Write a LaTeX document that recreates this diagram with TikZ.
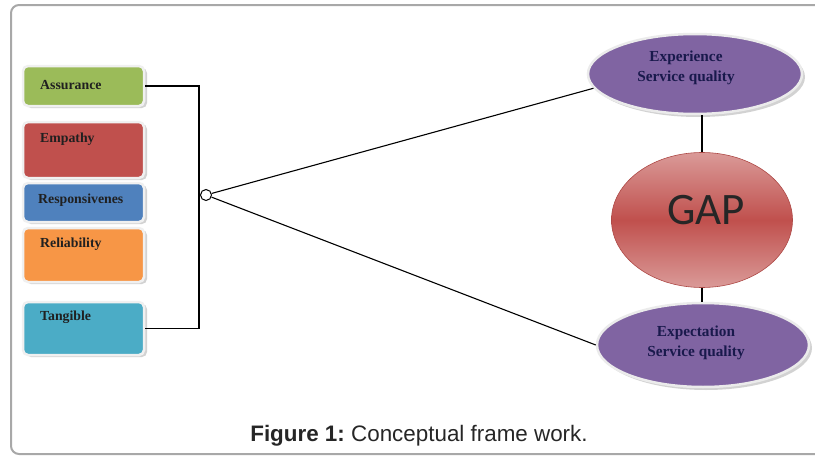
\documentclass[tikz,border=0pt]{standalone}
\usepackage{fontspec}
\setmainfont{Liberation Serif}
\newfontfamily\capfont{Liberation Sans}
\newfontfamily\gapfont{Carlito}
\usetikzlibrary{shapes.geometric,shadows}
\definecolor{cgreen}{HTML}{9BBB59}
\definecolor{cred}{HTML}{C0504D}
\definecolor{cblue}{HTML}{4F81BD}
\definecolor{corange}{HTML}{F79646}
\definecolor{cteal}{HTML}{4BACC6}
\definecolor{cpurple}{HTML}{8064A2}
\definecolor{clight}{HTML}{DA9A98}
\definecolor{ctext}{HTML}{202020}
\definecolor{cframe}{HTML}{A8A8A8}
\tikzset{
  fbox/.style={draw=white!94!black, line width=2.5pt, rounded corners=5pt, minimum width=121pt, inner sep=0pt,
    drop shadow={shadow xshift=3pt, shadow yshift=-2pt, fill=black!35, opacity=.5}},
  blabel/.style={anchor=west, font=\bfseries\fontsize{13.8}{16}\selectfont, text=ctext, inner sep=0pt},
  pell/.style={ellipse, draw=white!92!black, line width=2.5pt, fill=cpurple, inner sep=0pt,
    drop shadow={shadow xshift=3pt, shadow yshift=-3pt, fill=black!35, opacity=.5}},
  elabel/.style={align=center, font=\bfseries\fontsize{15.3}{20}\selectfont, text=ctext!80!blue, inner sep=0pt},
  conn/.style={draw=black, line width=1.1pt}
}
\begin{document}
\begin{tikzpicture}[x=1pt,y=-1pt]
\useasboundingbox (0,0) rectangle (815,458);
\begin{scope}
\clip (0,0) rectangle (815,458);
\draw[cframe, line width=2pt, rounded corners=8pt] (11,5) rectangle (840,454);
\end{scope}
% boxes
\node[fbox, fill=cgreen, minimum height=40pt] (assur) at (83.5,86) {};
\node[fbox, fill=cred, minimum height=56pt] (empat) at (83.5,150) {};
\node[fbox, fill=cblue, minimum height=39pt] (respo) at (83.5,202.5) {};
\node[fbox, fill=corange, minimum height=54pt] (relia) at (83.5,255) {};
\node[fbox, fill=cteal, minimum height=53pt] (tangi) at (83.5,328.5) {};
\node[blabel] (lassur) at (40,85) {Assurance};
\node[blabel] (lempat) at (40,139) {Empathy};
\node[blabel] (lrespo) at (38,200) {Responsivenes};
\node[blabel] (lrelia) at (40,244) {Reliability};
\node[blabel] (ltangi) at (40,317) {Tangible};
% connectors from boxes
\coordinate (bartop) at (199,86);
\draw[conn] (assur.east) -- (bartop) |- (tangi.east);
\node[circle, draw=black, line width=1pt, fill=white, minimum size=11pt, inner sep=0pt] (jn) at (206,195) {};
% ellipses
\node[pell, minimum width=214pt, minimum height=80pt] (exper) at (695,74) {};
\node[pell, minimum width=212pt, minimum height=84pt] (expec) at (703,345) {};
\node[ellipse, draw=cred!90!black, line width=0.6pt, top color=clight, bottom color=clight, middle color=cred,
  minimum width=181pt, minimum height=135pt, inner sep=0pt] (gap) at (702,220) {};
\node[font=\gapfont\fontsize{45}{45}\selectfont, text=black!85, inner sep=0pt] (lgap) at (706,210) {GAP};
\node[elabel] (lexper) at (686,68) {Experience\\Service quality};
\node[elabel] (lexpec) at (696,343) {Expectation\\Service quality};
\draw[conn] (jn) -- (exper.188);
\draw[conn] (jn) -- (expec.180);
\draw[conn] (exper.south -| gap.north) -- (gap.north);
\draw[conn] (gap.south) -- (expec.north -| gap.south);
% caption
\node[font=\capfont\fontsize{22.4}{25}\selectfont, text=black!85, inner sep=0pt] (cap) at (419,436) {\textbf{Figure 1:}~Conceptual frame work.};
\end{tikzpicture}
\end{document}
